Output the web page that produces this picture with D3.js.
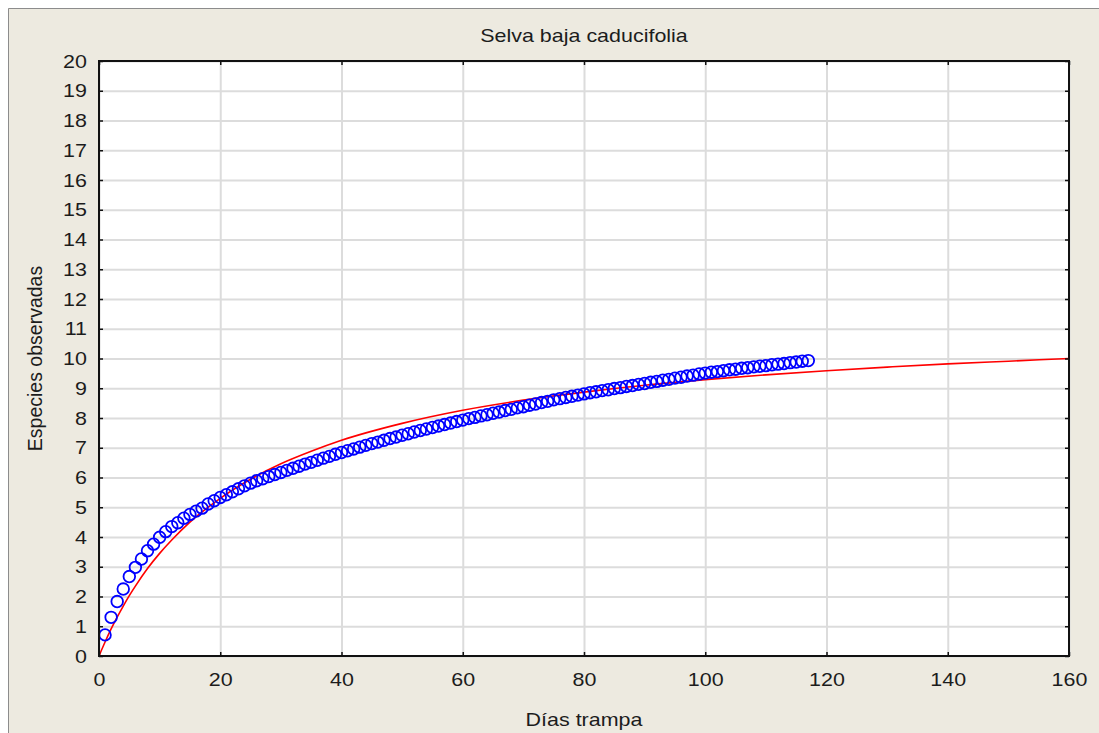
<!DOCTYPE html>
<html>
<head>
<meta charset="utf-8">
<script src="https://cdn.jsdelivr.net/npm/d3@7"></script>
<style>
  html, body { margin: 0; padding: 0; background: #fff; overflow: hidden; }
  svg { display: block; }
  text { font-family: "Liberation Sans", Arial, sans-serif; fill: #1c1c1c; }
</style>
</head>
<body>
<svg id="chart" width="1099" height="733"></svg>
<script>
// especies observadas por dia (curva de acumulacion)
var diasObs = d3.range(1, 118);
var especiesObs = [
  0.71, 1.30, 1.83, 2.25, 2.67, 2.98, 3.26, 3.54, 3.76, 3.99, 4.18, 4.35, 4.48, 4.63, 4.76, 4.87, 4.97, 5.11, 5.22, 5.33, 5.42,
  5.52, 5.62, 5.72, 5.81, 5.89, 5.96, 6.03, 6.10, 6.17, 6.24, 6.31, 6.38, 6.45, 6.51, 6.58, 6.65, 6.71, 6.78, 6.84,
  6.90, 6.96, 7.02, 7.08, 7.14, 7.19, 7.25, 7.31, 7.36, 7.42, 7.47, 7.53, 7.58, 7.63, 7.68, 7.73, 7.78, 7.83, 7.88, 7.93,
  7.98, 8.02, 8.07, 8.11, 8.16, 8.20, 8.25, 8.29, 8.34, 8.38, 8.43, 8.47, 8.52, 8.56, 8.61, 8.65, 8.69, 8.73, 8.77, 8.81,
  8.85, 8.88, 8.92, 8.95, 8.99, 9.02, 9.06, 9.09, 9.13, 9.16, 9.20, 9.23, 9.27, 9.30, 9.34, 9.37, 9.41, 9.44, 9.48, 9.51,
  9.54, 9.56, 9.59, 9.62, 9.64, 9.67, 9.69, 9.72, 9.74, 9.76, 9.79, 9.81, 9.83, 9.86, 9.88, 9.91, 9.93
];

// curva ajustada (linea roja)
var diasAjuste = [0, 1, 2, 3, 4, 5, 6, 8, 10, 12, 15, 20, 25, 30, 35, 40, 50, 60, 70, 80, 90, 100, 110, 120, 130, 140, 150, 160];
var especiesAjuste = [0, 0.47, 0.91, 1.31, 1.68, 2.03, 2.35, 2.94, 3.45, 3.90, 4.50, 5.30, 5.94, 6.46, 6.88, 7.25, 7.82, 8.26, 8.60, 8.87, 9.10, 9.29, 9.45, 9.59, 9.71, 9.82, 9.91, 10.0];

var xTicks = [0, 20, 40, 60, 80, 100, 120, 140, 160];
var yTicks = d3.range(0, 21);

var titulo = "Selva baja caducifolia",
    etiquetaX = "Días trampa",
    etiquetaY = "Especies observadas";

var stretch = 1.13; // el texto original sale algo ensanchado

var svg = d3.select("#chart"),
    margin = {top: 61, right: 30, bottom: 77, left: 99},
    width = +svg.attr("width") - margin.left - margin.right,
    height = +svg.attr("height") - margin.top - margin.bottom;

// marco beige (sigue fuera de la imagen por la derecha y abajo)
svg.append("rect")
    .attr("x", 8).attr("y", 8)
    .attr("width", 1091).attr("height", 725)
    .attr("fill", "#edeae0");
svg.append("path")
    .attr("d", "M8.5,733V8.5H1099")
    .attr("fill", "none")
    .attr("stroke", "#8c8c8c")
    .attr("stroke-width", 1);

var g = svg.append("g").attr("transform", "translate(" + margin.left + "," + margin.top + ")");

var x = d3.scaleLinear().domain([0, 160]).range([0, width]);
var y = d3.scaleLinear().domain([0, 20]).range([height, 0]);

g.append("rect")
    .attr("width", width).attr("height", height)
    .attr("fill", "#fff");

// rejilla
g.append("g")
    .attr("class", "grid")
    .attr("transform", "translate(0," + height + ")")
    .call(d3.axisBottom(x).tickValues(xTicks).tickSize(-height).tickFormat(""))
    .call(function(a) { a.select(".domain").remove(); })
    .selectAll("line").attr("stroke", "#dcdcdc").attr("stroke-width", 2);

g.append("g")
    .attr("class", "grid")
    .call(d3.axisLeft(y).tickValues(yTicks).tickSize(-width).tickFormat(""))
    .call(function(a) { a.select(".domain").remove(); })
    .selectAll("line").attr("stroke", "#dcdcdc").attr("stroke-width", 2);

// curva ajustada
var linea = d3.line()
    .x(function(d, i) { return x(diasAjuste[i]); })
    .y(function(d) { return y(d); })
    .curve(d3.curveMonotoneX);

g.append("path")
    .datum(especiesAjuste)
    .attr("fill", "none")
    .attr("stroke", "#ff0000")
    .attr("stroke-width", 1.6)
    .attr("d", linea);

// puntos observados
g.selectAll(".punto")
    .data(especiesObs)
    .enter().append("circle")
    .attr("class", "punto")
    .attr("cx", function(d, i) { return x(diasObs[i]); })
    .attr("cy", function(d) { return y(d); })
    .attr("r", 5.8)
    .attr("fill", "none")
    .attr("stroke", "#0000ff")
    .attr("stroke-width", 1.8);

// ejes con marcas hacia dentro
var ejeX = g.append("g")
    .attr("class", "eje")
    .attr("transform", "translate(0," + height + ")")
    .call(d3.axisBottom(x).tickValues(xTicks).tickSize(-4).tickPadding(17));
var ejeY = g.append("g")
    .attr("class", "eje")
    .call(d3.axisLeft(y).tickValues(yTicks).tickSize(-4).tickPadding(12));
g.append("g")
    .attr("class", "eje")
    .call(d3.axisTop(x).tickValues(xTicks).tickSize(-4).tickFormat(""));
g.append("g")
    .attr("class", "eje")
    .attr("transform", "translate(" + width + ",0)")
    .call(d3.axisRight(y).tickValues(yTicks).tickSize(-4).tickFormat(""));

g.selectAll(".domain").remove();
g.selectAll(".eje .tick line").attr("stroke", "#111").attr("stroke-width", 1.5);

ejeX.selectAll("text")
    .attr("font-size", 19)
    .attr("font-family", "Liberation Sans, Arial, sans-serif")
    .attr("fill", "#1c1c1c")
    .attr("transform", "scale(" + stretch + ",1)");
ejeY.selectAll("text")
    .attr("font-size", 19)
    .attr("font-family", "Liberation Sans, Arial, sans-serif")
    .attr("fill", "#1c1c1c")
    .attr("x", -12 / stretch)
    .attr("transform", "scale(" + stretch + ",1)");

// borde del area del grafico
g.append("rect")
    .attr("width", width).attr("height", height)
    .attr("fill", "none")
    .attr("stroke", "#111")
    .attr("stroke-width", 2);

// titulos
svg.append("text")
    .attr("transform", "translate(" + (margin.left + width / 2) + ",42) scale(" + stretch + ",1)")
    .attr("text-anchor", "middle")
    .attr("font-size", 19)
    .text(titulo);

svg.append("text")
    .attr("transform", "translate(" + (margin.left + width / 2) + ",726) scale(" + stretch + ",1)")
    .attr("text-anchor", "middle")
    .attr("font-size", 19)
    .text(etiquetaX);

svg.append("text")
    .attr("transform", "translate(42," + (margin.top + height / 2) + ") rotate(-90)")
    .attr("text-anchor", "middle")
    .attr("font-size", 19.5)
    .text(etiquetaY);
</script>
</body>
</html>
